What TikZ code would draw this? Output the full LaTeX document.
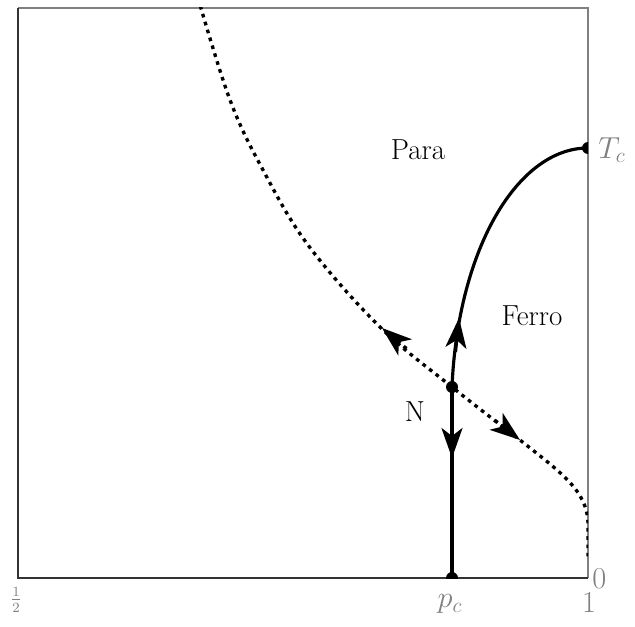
\documentclass[tikz,border=0pt]{standalone}
\usepackage{xcolor}
\usepackage{tikz}
\usetikzlibrary{arrows.meta}
\definecolor{axisgray}{RGB}{128,128,128}

\tikzset{
  flow/.style={line width=1.8pt},
  crit/.style={line width=1.9pt, dash pattern=on 2.1pt off 2.6pt},
  flowtip/.style={flow, -{Stealth[length=6mm,width=4.2mm,inset=1.6mm]}},
  crittip/.style={crit, -{Stealth[length=6mm,width=4.2mm,inset=1.6mm]}},
  ticklabel/.style={text=axisgray, inner sep=0pt},
}

\begin{document}
\begin{tikzpicture}[x=0.02cm, y=0.02cm, font=\fontsize{16.5}{20}\selectfont]
    \useasboundingbox (-18,-48) rectangle (617,578);
    % frame
    \draw[axisgray, line width=0.6pt] (0,570) -- (570,570) -- (570,0);
    \draw[black!80, line width=0.6pt] (0,570) -- (0,0) -- (570,0);

    \coordinate (pc) at (434,0);
    \coordinate (N) at (434,191);
    \coordinate (Tc) at (570,430);

    \begin{scope}
        \clip (0,0) rectangle (570,570);
        % critical line
        \draw[crit] plot[smooth, tension=0.6] coordinates {(180,580) (212,478) (245,408)
            (290,333) (362,251) (434,191) (502,138)}
            .. controls (542,106) and (569,88) .. (570,55) -- (570,20);
        % flow lines
        \draw[flow] (pc) -- (N);
        \draw[flow] (N) .. controls (440,330) and (500,430) .. (Tc);
        \fill (pc) circle (6);
        \fill (N) circle (6);
        \fill (Tc) circle (6);
    \end{scope}

    % arrows
    \coordinate (upback) at (437.5,226);
    \coordinate (uptip) at (441,260);
    \coordinate (downback) at (434,152);
    \coordinate (downtip) at (434,120);
    \coordinate (leftback) at (388.5,229.4);
    \coordinate (lefttip) at (364,250);
    \coordinate (rightback) at (476.8,157.7);
    \coordinate (righttip) at (502,138);
    \draw[flowtip] (upback) -- (uptip);
    \draw[flowtip] (downback) -- (downtip);
    \draw[crittip] (leftback) -- (lefttip);
    \draw[crittip] (rightback) -- (righttip);

    % regions
    \node (para) at (400,428) {Para};
    \node (ferro) at (514,262) {Ferro};
    \node (nlab) at (397,166) {N};

    % ticks
    \node[ticklabel] (half) at (-2,-22) {$\scriptstyle\frac{1}{2}$};
    \node[ticklabel] (pclab) at (432,-26) {$p_c$};
    \node[ticklabel] (onelab) at (571,-25) {$1$};
    \node[ticklabel, anchor=west] (zerolab) at (574,-1) {$0$};
    \node[ticklabel, anchor=west] (tclab) at (580,428) {$T_c$};
\end{tikzpicture}
\end{document}
